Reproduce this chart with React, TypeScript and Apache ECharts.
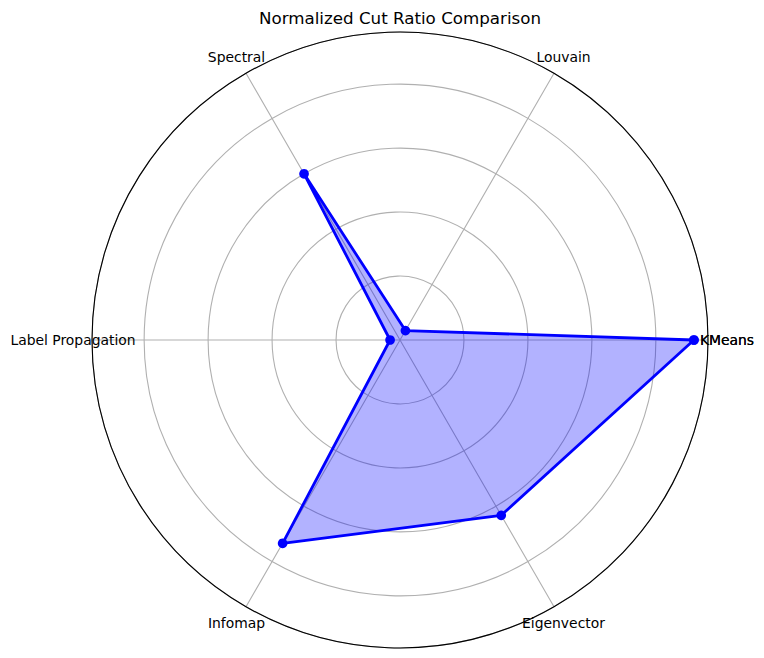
import React, { useEffect, useRef } from 'react';
import * as echarts from 'echarts';

// Data
const categories = ['KMeans', 'Louvain', 'Spectral', 'Label Propagation', 'Infomap', 'Eigenvector'];
const cutRatios = [0.919, 0.034, 0.6, 0.031, 0.734, 0.633];
const angleDegrees = [0, 60, 120, 180, 240, 300];
const radiusMax = 0.963;
const ringInterval = 0.2;

const TITLE = 'Normalized Cut Ratio Comparison';
const FONT = "'DejaVu Sans', sans-serif";
const CENTER: [number, number] = [400, 340];
const RADIUS_PX = 308;
const LABEL_RADIUS_PX = 327;

export default function App() {
  const ref = useRef<HTMLDivElement>(null);

  useEffect(() => {
    document.body.style.margin = '0';
    const chart = echarts.init(ref.current!, null, { renderer: 'svg' });
    const n = categories.length;
    const closedIdx = [...Array(n).keys(), 0];
    const lineData = closedIdx.map((i, k) => [cutRatios[i], k === n ? 360 : angleDegrees[i]]);
    const labelR = (radiusMax * LABEL_RADIUS_PX) / RADIUS_PX;
    const labelData = closedIdx.map((i, k) => ({
      name: categories[i],
      value: [labelR, k === n ? 360 : angleDegrees[i]],
    }));

    chart.setOption({
      animation: false,
      title: {
        text: TITLE,
        left: 400,
        top: 9,
        padding: 0,
        textAlign: 'center',
        textStyle: { fontFamily: FONT, fontSize: 16.7, fontWeight: 'normal', color: '#000' },
      },
      polar: { center: CENTER, radius: RADIUS_PX },
      angleAxis: {
        type: 'value',
        min: 0,
        max: 360,
        interval: 60,
        startAngle: 0,
        clockwise: false,
        axisLine: { show: true, lineStyle: { color: '#000', width: 1.1 } },
        axisTick: { show: false },
        axisLabel: { show: false },
        splitLine: { show: true, lineStyle: { color: '#b0b0b0', width: 1.1 } },
      },
      radiusAxis: {
        type: 'value',
        min: 0,
        max: radiusMax,
        interval: ringInterval,
        axisLine: { show: false },
        axisTick: { show: false },
        axisLabel: { show: false },
        splitLine: { show: true, showMaxLine: false, lineStyle: { color: '#b0b0b0', width: 1.1 } },
      },
      series: [
        {
          type: 'line',
          coordinateSystem: 'polar',
          data: lineData,
          symbol: 'circle',
          symbolSize: 9.7,
          showSymbol: true,
          lineStyle: { color: '#0000ff', width: 2.8 },
          itemStyle: { color: '#0000ff', opacity: 1 },
          areaStyle: { color: '#0000ff', opacity: 0.3, origin: 'start' },
          z: 3,
        },
        {
          type: 'scatter',
          coordinateSystem: 'polar',
          clip: false,
          silent: true,
          symbolSize: 1,
          itemStyle: { color: 'rgba(0,0,0,0)', opacity: 1 },
          data: labelData,
          label: {
            show: true,
            position: 'inside',
            formatter: '{b}',
            color: '#000',
            opacity: 1,
            fontFamily: FONT,
            fontSize: 13.9,
          },
          z: 4,
        },
      ],
    });

    return () => chart.dispose();
  }, []);

  return <div ref={ref} style={{ position: 'absolute', left: 0, top: 0, width: 764, height: 658 }} />;
}
